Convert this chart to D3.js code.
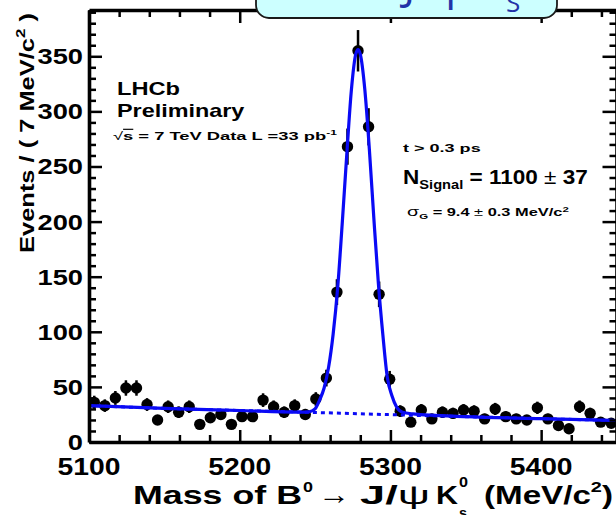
<!DOCTYPE html>
<html><head><meta charset="utf-8">
<script src="https://cdn.jsdelivr.net/npm/d3@7"></script>
<style>body{margin:0;background:#fff;overflow:hidden}svg{display:block}</style>
</head><body>
<svg id="c" width="616" height="515"></svg>
<script>
// ---------------- data ----------------
const binCenters = [5103.5,5110.5,5117.5,5124.5,5131.5,5138.5,5145.5,5152.5,5159.5,5166.5,
  5173.5,5180.5,5187.5,5194.5,5201.5,5208.5,5215.5,5222.5,5229.5,5236.5,
  5243.5,5250.5,5257.5,5264.5,5271.5,5278.5,5285.5,5292.5,5299.5,5306.5,
  5313.5,5320.5,5327.5,5334.5,5341.5,5348.5,5355.5,5362.5,5369.5,5376.5,
  5383.5,5390.5,5397.5,5404.5,5411.5,5418.5,5425.5,5432.5,5439.5,5446.5];
const counts = [36,33,40,49,49,34,20,32,27,32,
  16,22,25,16,23,23,38,32,27,33,
  25,39,58,136,268,355,286,134,57,28,
  18,29,21,27,26,29,28,21,30,23,
  21,20,31,21,15,12,32,26,18,17];
const errors = [6,5.7,6.3,7,7,5.8,4.5,5.7,5.2,5.7,
  4,4.7,5,4,4.8,4.8,6.2,5.7,5.2,5.7,
  5,6.2,7.6,11.7,16.4,18.8,16.9,11.6,7.5,5.3,
  4.2,5.4,4.6,5.2,5.1,5.4,5.3,4.6,5.5,4.8,
  4.6,4.5,5.6,4.6,3.9,3.5,5.7,5.1,4.2,4.1];
const fitMass  = [5100,5150,5200,5240,5246,5250,5253,5256,5259,5262,5265,5268,5271,5274,5277,5278.5,5280,5283,5286,5289,5292,5295,5298,5301,5304,5308,5315,5350,5400,5450];
const fitValue = [33,30.5,28.6,27.1,27.3,30,38,49,68,98,140,198,260,318,352,356,352,320,266,203,144,97,58,42,32,27,25.5,23,21.2,19.5];
const bgMass  = [5100,5150,5200,5250,5300,5350,5400,5450];
const bgValue = [33,30.5,28.6,26.8,24.8,23,21.2,19.5];
const xMajorTicks = [5100,5200,5300,5400];
const xTickLabels = ["5100","5200","5300","5400"];
const xMinorTicks = [5120,5140,5160,5180,5220,5240,5260,5280,5320,5340,5360,5380,5420,5440];
const yMajorTicks = [0,50,100,150,200,250,300,350];
const yTickLabels = ["0","50","100","150","200","250","300","350"];
const yMinorTicks = [10,20,30,40,60,70,80,90,110,120,130,140,160,170,180,190,210,220,230,240,260,270,280,290,310,320,330,340,360,370,380,390];

// ---------------- setup ----------------
const svg = d3.select("#c");
const FONT = "'Liberation Sans', Arial, Helvetica, sans-serif";
const BLUE = "#0a0af5";
const x = d3.scaleLinear().domain([5100,5450]).range([89,616.5]);
const y = d3.scaleLinear().domain([0,392]).range([442,10]);

function fitText(sel, tx, ty, target) {
  const w = sel.node().getBBox().width;
  const s = target / w;
  sel.attr("transform", `translate(${tx},${ty}) scale(${s},1)`);
  return sel;
}
function mkText(str, size, weight) {
  const t = svg.append("text").attr("font-family", FONT).attr("font-size", size)
    .attr("font-weight", weight || "bold").attr("fill", "#000");
  if (str) t.text(str);
  return t;
}

// ---------------- data marks ----------------
const pts = binCenters.map((m,i)=>({m, v:counts[i], e:errors[i]}));
svg.append("g").selectAll("line").data(pts).join("line")
  .attr("x1", d=>x(d.m)).attr("x2", d=>x(d.m))
  .attr("y1", d=>y(d.v - d.e)).attr("y2", d=>y(d.v + d.e))
  .attr("stroke", "#000").attr("stroke-width", 2.5);
svg.append("g").selectAll("circle").data(pts).join("circle")
  .attr("cx", d=>x(d.m)).attr("cy", d=>y(d.v)).attr("r", 5.7).attr("fill", "#000");

const line = d3.line().x(d=>x(d[0])).y(d=>y(d[1])).curve(d3.curveMonotoneX);
svg.append("path").attr("d", line(bgMass.map((m,i)=>[m,bgValue[i]])))
  .attr("fill","none").attr("stroke",BLUE).attr("stroke-width",3).attr("stroke-dasharray","4,4");
svg.append("path").attr("d", line(fitMass.map((m,i)=>[m,fitValue[i]])))
  .attr("fill","none").attr("stroke",BLUE).attr("stroke-width",3.2);

// ---------------- axes / frame ----------------
function styleAxis(g, keepDomain) {
  g.selectAll(".tick line").attr("stroke","#000").attr("stroke-width",2.5);
  g.selectAll(".tick text").remove();
  if (keepDomain) g.select(".domain").attr("stroke","#000").attr("stroke-width",3.6);
  else g.select(".domain").remove();
}
function addAxis(axis, tx, ty, keep) {
  const g = svg.append("g").attr("transform",`translate(${tx},${ty})`);
  g.call(axis);
  styleAxis(g, keep);
}
addAxis(d3.axisBottom(x).tickValues(xMajorTicks).tickSizeInner(-12).tickSizeOuter(0).tickFormat(""), 0, y(0), true);
addAxis(d3.axisBottom(x).tickValues(xMinorTicks).tickSize(-7).tickFormat(""), 0, y(0), false);
addAxis(d3.axisTop(x).tickValues(xMajorTicks).tickSizeInner(-13).tickSizeOuter(0).tickFormat(""), 0, y(392), true);
addAxis(d3.axisTop(x).tickValues(xMinorTicks).tickSize(-7).tickFormat(""), 0, y(392), false);
addAxis(d3.axisLeft(y).tickValues(yMajorTicks).tickSizeInner(-13).tickSizeOuter(0).tickFormat(""), x(5100), 0, true);
addAxis(d3.axisLeft(y).tickValues(yMinorTicks).tickSize(-7).tickFormat(""), x(5100), 0, false);
addAxis(d3.axisRight(y).tickValues(yMajorTicks).tickSizeInner(-14).tickSizeOuter(0).tickFormat(""), x(5450), 0, true);
addAxis(d3.axisRight(y).tickValues(yMinorTicks).tickSize(-7).tickFormat(""), x(5450), 0, false);

// tick labels
xMajorTicks.forEach((v,i)=>{
  mkText(xTickLabels[i], 23).attr("text-anchor","middle")
    .attr("transform", `translate(${x(v)},475) scale(1.23,1)`);
});
yMajorTicks.forEach((v,i)=>{
  mkText(yTickLabels[i], 22).attr("text-anchor","end")
    .attr("transform", `translate(83,${y(v)+8}) scale(1.24,1)`);
});

// y axis title
const yt = mkText(null, 18).attr("text-anchor","middle");
yt.append("tspan").text("Events / ( 7 MeV/c");
yt.append("tspan").text("2").attr("font-size",12).attr("dy",-8);
yt.append("tspan").text(" )").attr("dy",8);
{
  const w = yt.node().getBBox().width;
  yt.attr("transform", `translate(34,133) rotate(-90) scale(${240/w},1.08)`);
}

// x axis title, placed piece by piece
fitText(mkText("Mass of B", 25), 133, 504, 169);
fitText(mkText("0", 15), 303, 492, 10);
{
  const a = mkText("\u2192", 25, "normal");
  const w = a.node().getBBox().width;
  a.attr("transform", `translate(318,504) scale(${32/w},1.15)`);
}
{
  const t = mkText(null, 25);
  t.append("tspan").text("J/");
  t.append("tspan").text("\u03C8").attr("font-weight","normal");
  fitText(t, 360, 504, 70);
}
fitText(mkText("K", 25), 436, 504, 22);
fitText(mkText("0", 15), 459, 487, 9);
fitText(mkText("s", 15), 459, 518, 8);
{
  const t = mkText(null, 25);
  t.append("tspan").text("(MeV/c");
  t.append("tspan").text("2").attr("font-size",15).attr("dy",-12);
  t.append("tspan").text(")").attr("dy",12);
  fitText(t, 484, 504, 129);
}

// annotations
fitText(mkText("LHCb", 19), 117, 95, 63);
fitText(mkText("Preliminary", 19), 117, 116.5, 128);
const sq = mkText(null, 11.5);
sq.append("tspan").text("\u221A").attr("font-weight","normal");
sq.append("tspan").text("s").attr("text-decoration","overline");
sq.append("tspan").text(" = 7 TeV Data L =33 pb");
sq.append("tspan").text("-1").attr("font-size",7.5).attr("dy",-5);
fitText(sq, 113, 140, 224);
fitText(mkText("t  > 0.3 ps", 10.5), 403, 152, 78);
const nsig = mkText(null, 20);
nsig.append("tspan").text("N");
nsig.append("tspan").text("Signal").attr("font-size",13).attr("dy",5);
nsig.append("tspan").text(" = 1100 ").attr("dy",-5);
nsig.append("tspan").text("\u00B1").attr("font-weight","normal");
nsig.append("tspan").text(" 37");
fitText(nsig, 403, 183.5, 185);
const sg = mkText(null, 10);
sg.append("tspan").text("\u03C3").attr("font-weight","normal").attr("font-size",12);
sg.append("tspan").text("G").attr("font-size",7).attr("dy",3);
sg.append("tspan").text(" = 9.4 ").attr("dy",-3);
sg.append("tspan").text("\u00B1").attr("font-weight","normal");
sg.append("tspan").text(" 0.3 MeV/c");
sg.append("tspan").text("2").attr("font-size",7).attr("dy",-4);
fitText(sg, 407, 216, 162);

// title box (cut at top of the picture, as in the original)
svg.append("rect").attr("x",256).attr("y",-24).attr("width",301).attr("height",42)
  .attr("rx",13).attr("fill","#ccffff").attr("stroke","#1a1a1a").attr("stroke-width",1.8);
const title = svg.append("text").attr("font-size",44).attr("fill","#2233a8")
  .attr("font-family","'Open Sans', 'DejaVu Sans', sans-serif").attr("y",-1);
title.append("tspan").text("B\u2070 \u2192 J/").attr("x",300);
title.append("tspan").text("\u03C8").attr("x",434);
title.append("tspan").text("K").attr("x",466);
title.append("tspan").text("S").attr("x",506).attr("y",12).attr("font-size",26);
</script>
</body></html>
